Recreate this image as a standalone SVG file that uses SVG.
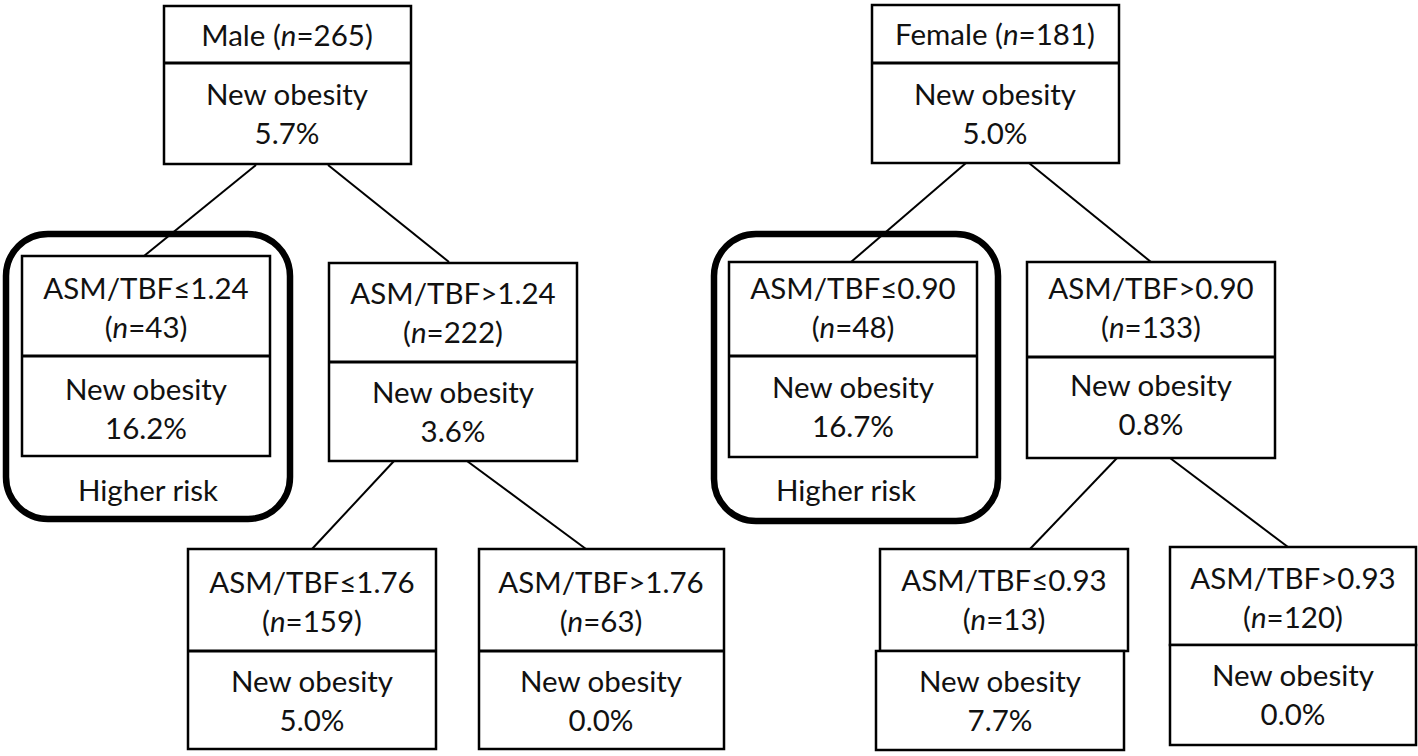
<svg xmlns="http://www.w3.org/2000/svg" width="1418" height="756" viewBox="0 0 1418 756">
<style>
.box{fill:#fff;stroke:#000;stroke-width:2.5}
.div{stroke:#000;stroke-width:3}
.hr{fill:none;stroke:#000;stroke-width:6.5}
.c{stroke:#000;stroke-width:2;fill:none}
text{font-family:Lato,"Open Sans",sans-serif;font-size:29.5px;fill:#111;text-anchor:middle}
.i{font-style:italic}
</style>
<rect width="1418" height="756" fill="#fff"/>
<g id="highrisk-male"><rect class="hr" x="6" y="234" width="284" height="285" rx="42"/><text x="148" y="501">Higher risk</text></g>
<g id="highrisk-female"><rect class="hr" x="714" y="234" width="284" height="287" rx="42"/><text x="846" y="501">Higher risk</text></g>
<g id="connectors">
<line class="c" x1="256" y1="165" x2="144" y2="256"/>
<line class="c" x1="328" y1="165" x2="449" y2="262"/>
<line class="c" x1="394" y1="461" x2="312" y2="549"/>
<line class="c" x1="467" y1="461" x2="586" y2="549"/>
<line class="c" x1="966" y1="163" x2="851" y2="262"/>
<line class="c" x1="1029" y1="163" x2="1151" y2="262"/>
<line class="c" x1="1117" y1="458" x2="1030" y2="549"/>
<line class="c" x1="1170" y1="458" x2="1288" y2="547"/>
</g>
<g id="male-root"><rect class="box" x="164" y="6" width="247" height="158"/><line class="div" x1="164" y1="63" x2="411" y2="63"/>
<text x="287" y="46">Male (<tspan class="i">n</tspan>=265)</text><text x="287" y="105">New obesity</text><text x="287" y="144">5.7%</text></g>
<g id="male-le124"><rect class="box" x="22" y="256" width="248" height="200"/><line class="div" x1="22" y1="356" x2="270" y2="356"/>
<text x="146" y="299">ASM/TBF≤1.24</text><text x="146" y="338">(<tspan class="i">n</tspan>=43)</text><text x="146" y="400">New obesity</text><text x="146" y="439">16.2%</text></g>
<g id="male-gt124"><rect class="box" x="329" y="263" width="248" height="198"/><line class="div" x1="329" y1="362" x2="577" y2="362"/>
<text x="453" y="304">ASM/TBF&gt;1.24</text><text x="453" y="343">(<tspan class="i">n</tspan>=222)</text><text x="453" y="403">New obesity</text><text x="453" y="442">3.6%</text></g>
<g id="male-le176"><rect class="box" x="188" y="549" width="248" height="200"/><line class="div" x1="188" y1="651" x2="436" y2="651"/>
<text x="312" y="593">ASM/TBF≤1.76</text><text x="312" y="632">(<tspan class="i">n</tspan>=159)</text><text x="312" y="692">New obesity</text><text x="312" y="731">5.0%</text></g>
<g id="male-gt176"><rect class="box" x="479" y="549" width="245" height="200"/><line class="div" x1="479" y1="651" x2="724" y2="651"/>
<text x="601" y="593">ASM/TBF&gt;1.76</text><text x="601" y="632">(<tspan class="i">n</tspan>=63)</text><text x="601" y="692">New obesity</text><text x="601" y="731">0.0%</text></g>
<g id="female-root"><rect class="box" x="872" y="5" width="247" height="158"/><line class="div" x1="872" y1="63" x2="1119" y2="63"/>
<text x="995" y="45">Female (<tspan class="i">n</tspan>=181)</text><text x="995" y="105">New obesity</text><text x="995" y="144">5.0%</text></g>
<g id="female-le090"><rect class="box" x="729" y="262" width="248" height="195"/><line class="div" x1="729" y1="356" x2="977" y2="356"/>
<text x="853" y="299">ASM/TBF≤0.90</text><text x="853" y="338">(<tspan class="i">n</tspan>=48)</text><text x="853" y="398">New obesity</text><text x="853" y="437">16.7%</text></g>
<g id="female-gt090"><rect class="box" x="1027" y="262" width="248" height="196"/><line class="div" x1="1027" y1="357" x2="1275" y2="357"/>
<text x="1151" y="299">ASM/TBF&gt;0.90</text><text x="1151" y="338">(<tspan class="i">n</tspan>=133)</text><text x="1151" y="396">New obesity</text><text x="1151" y="435">0.8%</text></g>
<g id="female-le093"><rect class="box" x="880" y="549" width="248" height="102"/><rect class="box" x="876" y="651" width="248" height="99"/>
<text x="1004" y="591">ASM/TBF≤0.93</text><text x="1004" y="630">(<tspan class="i">n</tspan>=13)</text><text x="1000" y="692">New obesity</text><text x="1000" y="731">7.7%</text></g>
<g id="female-gt093"><rect class="box" x="1170" y="547" width="246" height="98"/><rect class="box" x="1170" y="645" width="246" height="100"/>
<text x="1293" y="589">ASM/TBF&gt;0.93</text><text x="1293" y="628">(<tspan class="i">n</tspan>=120)</text><text x="1293" y="686">New obesity</text><text x="1293" y="725">0.0%</text></g>
</svg>
